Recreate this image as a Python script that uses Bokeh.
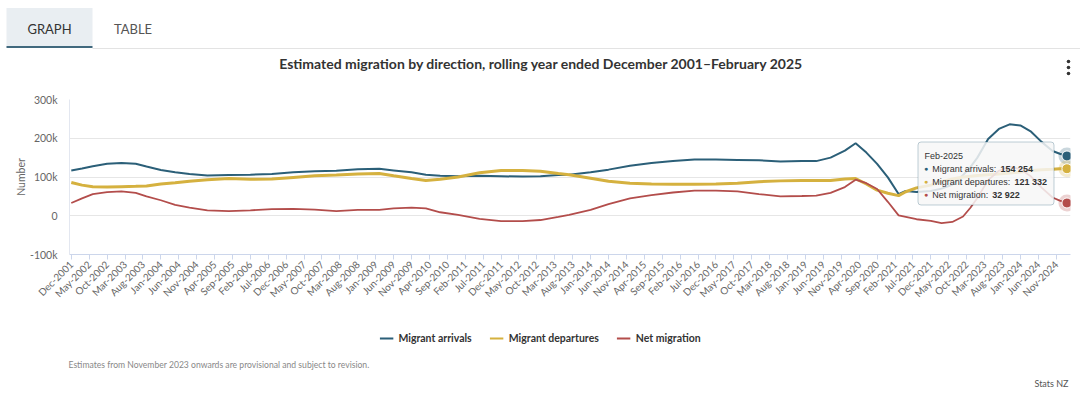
import math
from bokeh.plotting import figure
from bokeh.layouts import column
from bokeh.models import (Range1d, FixedTicker, Label, BoxAnnotation, Legend,
                          LegendItem, ColumnDataSource)
from bokeh.core.properties import value
from bokeh.embed import file_html
from bokeh.resources import INLINE

# ---------------- data ----------------
months = ["Dec-2001", "Mar-2002", "Jun-2002", "Oct-2002", "Feb-2003", "Jun-2003",
          "Sep-2003", "Jan-2004", "May-2004", "Sep-2004", "Feb-2005", "Aug-2005",
          "Feb-2006", "Aug-2006", "Feb-2007", "Aug-2007", "Feb-2008", "Aug-2008",
          "Feb-2009", "Jun-2009", "Nov-2009", "Mar-2010", "Jul-2010", "Dec-2010",
          "Jun-2011", "Dec-2011", "Jun-2012", "Nov-2012", "Apr-2013", "Jul-2013",
          "Jan-2014", "Jun-2014", "Dec-2014", "Jun-2015", "Dec-2015", "Jun-2016",
          "Dec-2016", "Jun-2017", "Dec-2017", "Jun-2018", "Dec-2018", "Apr-2019",
          "Aug-2019", "Dec-2019", "Mar-2020", "Jun-2020", "Sep-2020", "Dec-2020",
          "Mar-2021", "May-2021", "Aug-2021", "Dec-2021", "Mar-2022", "Jun-2022",
          "Sep-2022", "Nov-2022", "Jan-2023", "Apr-2023", "Jul-2023", "Oct-2023",
          "Jan-2024", "Apr-2024", "Jul-2024", "Oct-2024", "Dec-2024", "Feb-2025"]

arrivals = [117000, 122000, 128000, 134000, 136000, 134000,
            127000, 118000, 112000, 108000, 104000, 105000,
            106000, 108000, 112000, 115000, 116000, 120000,
            121000, 117000, 112000, 106000, 103000, 102000,
            103000, 102000, 101000, 102000, 105000, 106000,
            112000, 119000, 129000, 136000, 141000, 145000,
            145000, 144000, 143000, 140000, 141000, 141000,
            150000, 168000, 187000, 163000, 134000, 99000,
            56000, 64000, 61000, 64000, 70000, 80000,
            105000, 125000, 150000, 198000, 224000, 236000,
            233000, 217000, 190000, 167000, 160000, 154254]

departures = [86000, 79000, 75000, 74000, 75000, 76000,
              77000, 82000, 85000, 89000, 93000, 96000,
              94000, 95000, 99000, 103000, 105000, 108000,
              109000, 103000, 96000, 91000, 94000, 100000,
              111000, 117000, 117000, 115000, 109000, 106000,
              97000, 89000, 84000, 82000, 81000, 81000,
              82000, 84000, 88000, 90000, 91000, 91000,
              91000, 95000, 96000, 82000, 66000, 58000,
              52000, 62000, 72000, 79000, 88000, 95000,
              100000, 102000, 104000, 106000, 108000, 110000,
              113000, 117000, 119000, 120000, 121000, 121332]

net = [33000, 45000, 56000, 61000, 63000, 59000,
       50000, 40000, 28000, 21000, 14000, 12000,
       14000, 17000, 18000, 16000, 12000, 15000,
       15000, 19000, 21000, 19000, 9000, 2000,
       -8000, -14000, -14000, -11000, -3000, 2000,
       15000, 30000, 45000, 53000, 60000, 65000,
       65000, 63000, 56000, 50000, 51000, 52000,
       59000, 74000, 93000, 84000, 69000, 36000,
       1000, -3000, -9000, -13000, -19000, -16000,
       -2000, 20000, 46000, 92000, 116000, 127000,
       120000, 101000, 72000, 47000, 39000, 32922]

tick_labels = ["Dec-2001", "May-2002", "Oct-2002", "Mar-2003", "Aug-2003", "Jan-2004",
               "Jun-2004", "Nov-2004", "Apr-2005", "Sep-2005", "Feb-2006", "Jul-2006",
               "Dec-2006", "May-2007", "Oct-2007", "Mar-2008", "Aug-2008", "Jan-2009",
               "Jun-2009", "Nov-2009", "Apr-2010", "Sep-2010", "Feb-2011", "Jul-2011",
               "Dec-2011", "May-2012", "Oct-2012", "Mar-2013", "Aug-2013", "Jan-2014",
               "Jun-2014", "Nov-2014", "Apr-2015", "Sep-2015", "Feb-2016", "Jul-2016",
               "Dec-2016", "May-2017", "Oct-2017", "Mar-2018", "Aug-2018", "Jan-2019",
               "Jun-2019", "Nov-2019", "Apr-2020", "Sep-2020", "Feb-2021", "Jul-2021",
               "Dec-2021", "May-2022", "Oct-2022", "Mar-2023", "Aug-2023", "Jan-2024",
               "Jun-2024", "Nov-2024"]

y_ticks = [-100000, 0, 100000, 200000, 300000]
y_tick_labels = ["-100k", "0", "100k", "200k", "300k"]

series_names = ["Migrant arrivals", "Migrant departures", "Net migration"]
colors = ["#2b5f78", "#d5b13f", "#b34d4b"]

MON = {"Jan": 1, "Feb": 2, "Mar": 3, "Apr": 4, "May": 5, "Jun": 6,
       "Jul": 7, "Aug": 8, "Sep": 9, "Oct": 10, "Nov": 11, "Dec": 12}


def month_index(s):
    mon, yr = s.split("-")
    return (int(yr) - 2001) * 12 + MON[mon] - 12


xs = [month_index(m) for m in months]
src = ColumnDataSource(dict(x=xs, arr=arrivals, dep=departures, net=net))

FONT = "Lato"
W = 1080
HEAD_H, MAIN_H, FOOT_H = 80, 240, 74


def no_align(fig):
    try:
        fig.frame_align = False
    except Exception:
        pass
    return fig


def plain(fig):
    fig.outline_line_color = None
    fig.background_fill_color = "white"
    fig.border_fill_color = "white"
    fig.grid.visible = False
    return no_align(fig)


# ---------------- header (tabs, title, menu) ----------------
head = plain(figure(width=W, height=HEAD_H, output_backend="svg", toolbar_location=None,
                    x_range=Range1d(0, W), y_range=Range1d(HEAD_H, 0),
                    x_axis_location=None, y_axis_location=None,
                    min_border=0, title=None))
head.quad(left=[6], right=[92], top=[7.5], bottom=[46], fill_color="#e9eef2", line_alpha=0)
head.quad(left=[6], right=[92], top=[45.5], bottom=[47.5], fill_color="#41697e", line_alpha=0)
head.quad(left=[92], right=[W], top=[47.5], bottom=[48.5], fill_color="#e3e3e3", line_alpha=0)
head.text(x=[49, 132.5], y=[28, 28], text=["GRAPH", "TABLE"],
          text_font=value(FONT), text_font_size="13px",
          text_color=["#333333", "#555555"], text_align="center", text_baseline="middle")
head.text(x=[541], y=[63],
          text=["Estimated migration by direction, rolling year ended December 2001\u2013February 2025"],
          text_font=value(FONT), text_font_size="14px", text_font_style="bold",
          text_color="#333333", text_align="center", text_baseline="middle")
head.scatter(x=[1068, 1068, 1068], y=[61, 67, 73], size=3.6,
             fill_color="#333333", line_alpha=0)

# ---------------- main chart ----------------
BL, BT, BB, BR = 69, 19, 66, 10
p = figure(width=W, height=MAIN_H, output_backend="svg", toolbar_location=None,
           x_range=Range1d(-0.5, 279.0), y_range=Range1d(-100000, 300000),
           min_border_left=BL, min_border_top=BT, min_border_bottom=BB,
           min_border_right=BR, title=None)
no_align(p)
p.outline_line_color = None
p.background_fill_color = "white"
p.border_fill_color = "white"

p.xaxis.ticker = FixedTicker(ticks=[month_index(t) for t in tick_labels])
p.xaxis.major_label_overrides = {month_index(t): t for t in tick_labels}
p.xaxis.major_label_orientation = math.pi / 4
p.xaxis.major_label_text_font = FONT
p.xaxis.major_label_text_font_size = "10px"
p.xaxis.major_label_text_color = "#666666"
p.xaxis.axis_line_color = "#ccd6eb"
p.xaxis.major_tick_line_color = "#ccd6eb"
p.xaxis.major_tick_out = 5
p.xaxis.major_tick_in = 0
p.xaxis.minor_tick_line_color = None
p.xaxis.major_label_standoff = 3

p.yaxis.ticker = FixedTicker(ticks=y_ticks)
p.yaxis.major_label_overrides = dict(zip(y_ticks, y_tick_labels))
p.yaxis.major_label_text_font = FONT
p.yaxis.major_label_text_font_size = "10.5px"
p.yaxis.major_label_text_color = "#666666"
p.yaxis.axis_line_color = "#e3e7f0"
p.yaxis.major_tick_line_color = None
p.yaxis.minor_tick_line_color = None
p.yaxis.major_tick_out = 0
p.yaxis.major_label_standoff = 12
p.yaxis.axis_label = "Number"
p.yaxis.axis_label_text_font = FONT
p.yaxis.axis_label_text_font_size = "10.5px"
p.yaxis.axis_label_text_font_style = "normal"
p.yaxis.axis_label_text_color = "#666666"
p.yaxis.axis_label_standoff = 0

p.xgrid.grid_line_color = None
p.ygrid.grid_line_color = "#e6e6e6"

r_arr = p.line("x", "arr", source=src, line_color=colors[0], line_width=2)
r_dep = p.line("x", "dep", source=src, line_color=colors[1], line_width=3)
r_net = p.line("x", "net", source=src, line_color=colors[2], line_width=1.8)

last_x = xs[-1]
for val, c in zip([arrivals[-1], departures[-1], net[-1]], colors):
    p.scatter([last_x], [val], size=17, fill_color=c, fill_alpha=0.25, line_alpha=0)
    p.scatter([last_x], [val], size=10, fill_color=c, line_color="white", line_width=1)

# tooltip (screen units relative to the plot frame)
FX0 = BL                       # frame left, page px
FY1 = HEAD_H + MAIN_H - BB     # frame bottom, page px


def sx(px):
    return px - FX0


def sy(py):
    return FY1 - py


def lab(text, px, py, size, color="#333333", align="left", style="normal", font=FONT):
    p.add_layout(Label(x=sx(px), y=sy(py), x_units="screen", y_units="screen",
                       text=text, text_font=font, text_font_size=size,
                       text_color=color, text_align=align,
                       text_baseline="middle", text_font_style=style))


p.add_layout(BoxAnnotation(left=sx(917.5), right=sx(1053.5), top=sy(141.5), bottom=sy(204.5),
                           left_units="screen", right_units="screen",
                           top_units="screen", bottom_units="screen",
                           fill_color="#f7f7f7", fill_alpha=0.85,
                           line_color=colors[0], line_width=1, border_radius=3))
TF = "Liberation Sans"
lab("Feb-2025", 924, 155.5, "9px", "#333333", font=TF)
rows_y = [168, 181, 194]
val_x = [1000, 1014, 991.7]
vals = [arrivals[-1], departures[-1], net[-1]]
for n, c, yy, vx, v in zip(series_names, colors, rows_y, val_x, vals):
    lab("\u25cf", 923.5, yy, "7px", c, font=TF)
    lab(n + ":", 931.7, yy, "9px", "#333333", font=TF)
    lab(f"{v:,}".replace(",", " "), vx, yy, "9px", "#333333", style="bold", font=TF)

# ---------------- footer (legend, notes) ----------------
FOOT_Y0 = HEAD_H + MAIN_H
foot = plain(figure(width=W, height=FOOT_H, output_backend="svg", toolbar_location=None,
                    x_range=Range1d(0, W), y_range=Range1d(FOOT_Y0 + FOOT_H, FOOT_Y0),
                    x_axis_location=None, y_axis_location=None,
                    min_border=0, title=None))
key_renderers = [foot.line(x=[-20, -10], y=[FOOT_Y0, FOOT_Y0], line_color=c, line_width=2)
                 for c in colors]
legend = Legend(items=[LegendItem(label=n, renderers=[r]) for n, r in
                       zip(series_names, key_renderers)],
                orientation="horizontal", location="top_center",
                label_text_font=FONT, label_text_font_style="bold",
                label_text_font_size="10.5px", label_text_color="#333333",
                glyph_width=14, glyph_height=14, label_height=14,
                label_standoff=5, spacing=18,
                padding=0, margin=11, border_line_alpha=0, background_fill_alpha=0)
foot.add_layout(legend, "center")
foot.text(x=[68], y=[364], text=["Estimates from November 2023 onwards are provisional and subject to revision."],
          text_font=value(FONT), text_font_size="8.6px", text_color="#888888",
          text_align="left", text_baseline="middle")
foot.text(x=[1068], y=[383], text=["Stats NZ"],
          text_font=value(FONT), text_font_size="9px", text_color="#555555",
          text_align="right", text_baseline="middle")

layout = column(head, p, foot, spacing=0)
open("out.html", "w").write(file_html(layout, INLINE))
